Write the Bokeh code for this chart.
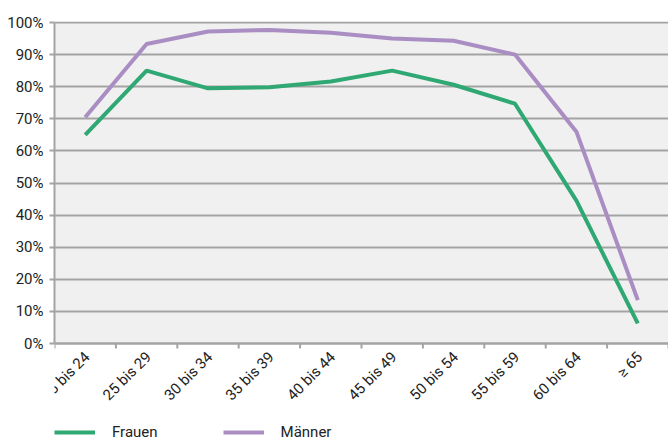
import math
from bokeh.plotting import figure
from bokeh.models import (FixedTicker, PrintfTickFormatter, Legend, LegendItem, Range1d,
                          BoxAnnotation, Span, Grid)
from bokeh.core.properties import value
from bokeh.embed import file_html
from bokeh.resources import INLINE

categories = ["15 bis 24", "25 bis 29", "30 bis 34", "35 bis 39", "40 bis 44",
              "45 bis 49", "50 bis 54", "55 bis 59", "60 bis 64", "\u2265 65"]
frauen = [65.0, 85.0, 79.5, 79.8, 81.6, 85.0, 80.6, 74.7, 44.5, 6.3]
maenner = [70.5, 93.3, 97.2, 97.7, 96.8, 95.0, 94.3, 90.0, 66.0, 13.5]
y_ticks = [0, 10, 20, 30, 40, 50, 60, 70, 80, 90, 100]

FONT = "Roboto"
GREEN = "#2fa873"
PURPLE = "#a98dc3"
GRAY = "#a3a3a3"
TXT = "#222222"

n = len(categories)
xs = [i + 0.5 for i in range(n)]
bounds = list(range(n + 1))

# frame spans from y=21 to the bottom of the canvas; 0% sits 98px above the bottom
PX_PER_UNIT = 3.21
y_top = 100 + 1 / PX_PER_UNIT
y_bottom = -98 / PX_PER_UNIT

p = figure(width=668, height=441, output_backend="svg", toolbar_location=None,
           x_range=Range1d(0, n), y_range=Range1d(y_bottom, y_top),
           x_axis_location=None,
           min_border_left=54, min_border_right=0, min_border_top=21, min_border_bottom=0)
p.center = [r for r in p.center if not (isinstance(r, Grid) and r.dimension == 0)]
p.border_fill_color = "#ffffff"
p.background_fill_color = "#ffffff"
p.outline_line_color = None

# plot area background
p.add_layout(BoxAnnotation(bottom=0, top=100, fill_color="#eff0ef", fill_alpha=1,
                           line_color=None, level="image"))

# y axis
p.yaxis.ticker = FixedTicker(ticks=y_ticks)
p.yaxis.bounds = (0, 100)
p.yaxis.formatter = PrintfTickFormatter(format="%d%%")
p.yaxis.axis_line_color = GRAY
p.yaxis.axis_line_width = 2
p.yaxis.major_tick_line_color = GRAY
p.yaxis.major_tick_line_width = 2
p.yaxis.major_tick_out = 5
p.yaxis.major_tick_in = 0
p.yaxis.minor_tick_line_color = None
p.yaxis.major_label_text_font = FONT
p.yaxis.major_label_text_font_size = "15px"
p.yaxis.major_label_text_color = TXT
p.yaxis.major_label_standoff = 6

p.ygrid.ticker = FixedTicker(ticks=y_ticks)
p.ygrid.grid_line_color = GRAY
p.ygrid.grid_line_width = 2

# x axis line, ticks at category boundaries and rotated category labels
p.add_layout(Span(location=0, dimension="width", line_color=GRAY, line_width=2))
p.ray(x=bounds, y=[0] * len(bounds), length=5, length_units="screen",
      angle=-math.pi / 2, line_color=GRAY, line_width=2)
p.text(x=xs, y=[0] * n, text=categories, angle=math.pi / 4,
       text_align="right", text_baseline="middle", x_offset=2, y_offset=11,
       text_font=value(FONT), text_font_size=value("15px"), text_color=TXT)

r1 = p.line(xs, frauen, line_color=GREEN, line_width=4)
r2 = p.line(xs, maenner, line_color=PURPLE, line_width=4)

legend = Legend(items=[LegendItem(label="Frauen", renderers=[r1]),
                       LegendItem(label="M\u00e4nner", renderers=[r2])],
                orientation="horizontal", location=(0, 0),
                margin=0, padding=0, spacing=65, glyph_width=41, glyph_height=18,
                label_standoff=17, label_height=18,
                border_line_color=None, background_fill_alpha=0,
                label_text_font=FONT, label_text_font_size="15px",
                label_text_color=TXT)
p.add_layout(legend, "center")

open("out.html", "w").write(file_html(p, INLINE))
